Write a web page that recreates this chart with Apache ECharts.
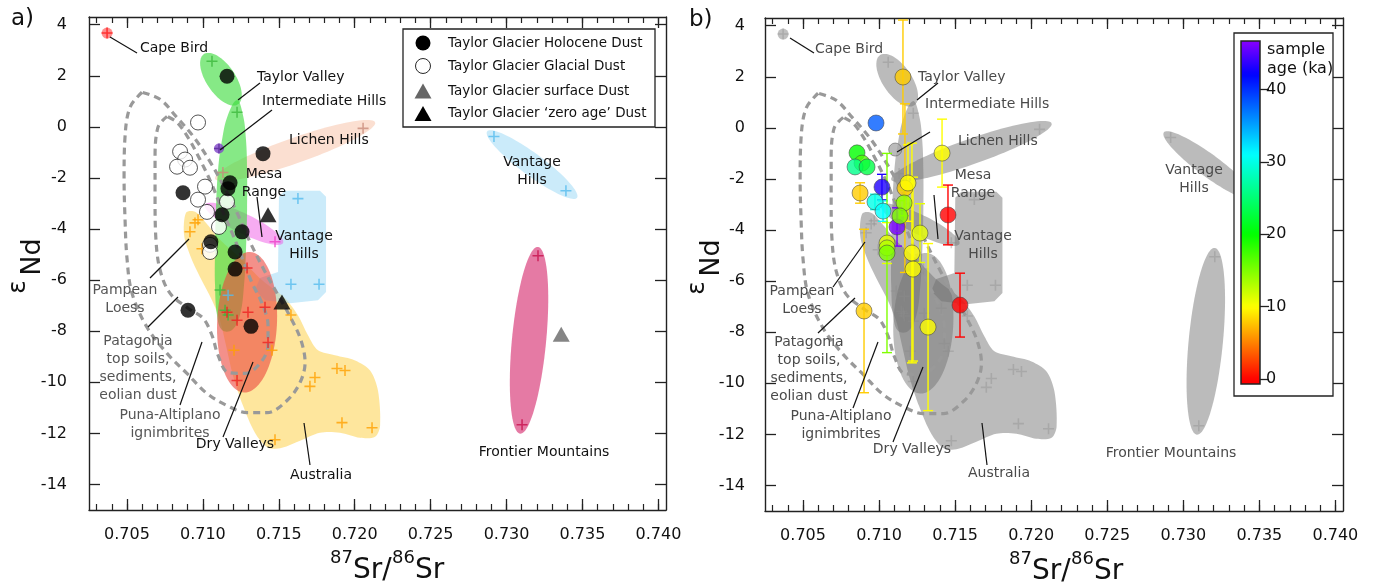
<!DOCTYPE html>
<html><head><meta charset="utf-8">
<script src="https://cdn.jsdelivr.net/npm/echarts@6/dist/echarts.min.js"></script>
<style>html,body{margin:0;padding:0;background:#fff}#c{width:1373px;height:585px}</style>
</head><body><div id="c"></div>
<script>
// ================= DATA =================
const xTicks = [0.705, 0.710, 0.715, 0.720, 0.725, 0.730, 0.735, 0.740];
const xMinorTicks = [0.703,0.704,0.705,0.706,0.707,0.708,0.709,0.710,0.711,0.712,0.713,0.714,0.715,0.716,0.717,0.718,0.719,0.720,0.721,0.722,0.723,0.724,0.725,0.726,0.727,0.728,0.729,0.730,0.731,0.732,0.733,0.734,0.735,0.736,0.737,0.738,0.739,0.740];
const yTicks = [-14, -12, -10, -8, -6, -4, -2, 0, 2, 4];
const ageTicks = [0, 10, 20, 30, 40];

// Taylor Glacier dust, panel a  [87Sr/86Sr, eNd]
const holoceneDust = [[0.71159,1.98],[0.71396,-1.05],[0.71179,-2.19],[0.71165,-2.42],[0.70869,-2.58],[0.71126,-3.44],[0.71258,-4.11],[0.71053,-4.50],[0.71212,-4.90],[0.71212,-5.57],[0.70902,-7.18],[0.71317,-7.81]];
const glacialDust = [[0.70968,0.17],[0.70850,-0.97],[0.70883,-1.28],[0.70830,-1.56],[0.70915,-1.60],[0.71014,-2.34],[0.70968,-2.85],[0.71159,-2.93],[0.71027,-3.33],[0.71106,-3.92],[0.71047,-4.62],[0.71047,-4.90]];
const surfaceDust = [[0.73360,-8.12]];
const zeroAgeDust = [[0.71429,-3.44],[0.71521,-6.86]];

// Panel b samples [87Sr/86Sr, eNd, eNd error, age (ka)]
const ageSamples = [
  [0.71157, 1.99, 2.23, 8],
  [0.70980, 0.19, 0, 38],
  [0.70855, -0.98, 0, 20],
  [0.70888, -1.38, 0, 17],
  [0.70842, -1.53, 0, 26],
  [0.70921, -1.53, 0, 23],
  [0.70875, -2.55, 0.4, 8],
  [0.71019, -2.32, 0.5, 43],
  [0.70973, -2.90, 0.3, 30],
  [0.71026, -3.26, 0.4, 31],
  [0.71118, -3.88, 0.75, 46],
  [0.71052, -4.51, 0.8, 11],
  [0.71052, -4.70, 0, 13],
  [0.71052, -4.90, 3.9, 15],
  [0.71170, -2.36, 3.3, 8],
  [0.71190, -2.16, 1.5, 10],
  [0.71164, -2.94, 0.5, 14],
  [0.71137, -3.45, 0.6, 15],
  [0.71269, -4.12, 1.15, 11],
  [0.71216, -4.90, 4.3, 10],
  [0.71223, -5.53, 3.6, 10],
  [0.71414, -0.99, 1.33, 10],
  [0.71453, -3.41, 1.17, 0],
  [0.71532, -6.94, 1.25, 0],
  [0.70901, -7.17, 3.2, 8],
  [0.71322, -7.80, 3.27, 10]
];

// Potential source area samples
const capeBird = [[0.70369, 3.67]];
const intermediateHills = [[0.71106, -0.85]];
const taylorValleyPts = [[0.71060,2.57],[0.71225,0.57],[0.71113,-6.39],[0.71146,-7.18],[0.71166,-7.37]];
const lichenHillsPts = [[0.72055,-0.06],[0.71132,-1.79]];
const vantageHillsPts = [[0.71626,-2.81],[0.71580,-6.16],[0.71765,-6.16],[0.71166,-6.59],[0.72917,-0.38],[0.73391,-2.50]];
const mesaRangePts = [[0.71475,-4.50]];
const frontierPts = [[0.73207,-5.05],[0.73102,-11.66]];
const dryValleysPts = [[0.71291,-5.53],[0.71409,-7.06],[0.71297,-7.26],[0.71225,-7.57],[0.71159,-7.26],[0.71429,-8.44],[0.71225,-9.93]];
const australiaPts = [[0.70915,-4.11],[0.70948,-3.76],[0.70968,-3.64],[0.70994,-4.77],[0.71205,-8.75],[0.71455,-8.75],[0.71580,-7.37],[0.71738,-9.81],[0.71705,-10.16],[0.71883,-9.46],[0.71936,-9.54],[0.71916,-11.58],[0.72114,-11.78],[0.71475,-12.25]];

// Source fields (outlines in data units)
const australiaOutline = [[0.70889,-3.364],[0.70948,-3.325],[0.71014,-3.718],[0.71113,-4.425],[0.71244,-5.133],[0.71389,-5.998],[0.71541,-6.706],[0.71626,-7.374],[0.71692,-8.160],[0.71758,-8.750],[0.71870,-8.946],[0.72002,-9.143],[0.72101,-9.536],[0.72153,-10.322],[0.72167,-11.698],[0.72134,-12.130],[0.72035,-12.170],[0.71903,-11.973],[0.71771,-11.973],[0.71640,-12.288],[0.71521,-12.563],[0.71429,-12.563],[0.71343,-11.973],[0.71264,-10.912],[0.71198,-9.732],[0.71152,-8.553],[0.71113,-7.571],[0.71060,-6.784],[0.70981,-5.880],[0.70915,-5.015],[0.70876,-4.229]];
const vantageOutline = [[0.71541,-2.499],[0.71771,-2.499],[0.71811,-2.735],[0.71811,-6.470],[0.71758,-6.784],[0.71574,-6.902],[0.71409,-6.784],[0.71343,-6.391],[0.71376,-5.919],[0.71495,-5.683],[0.71501,-2.735]];
const taylorLowerOutline = [[0.71225,1.051],[0.71264,0.464],[0.71284,-0.515],[0.71291,-1.690],[0.71291,-3.256],[0.71284,-4.821],[0.71271,-6.192],[0.71244,-7.366],[0.71192,-7.953],[0.71126,-7.953],[0.71093,-7.366],[0.71080,-6.192],[0.71080,-4.821],[0.71086,-3.256],[0.71100,-1.690],[0.71126,-0.515],[0.71165,0.464]];
// ellipses: [centre, end of one semi-axis, end of the other]
const taylorUpperEll = [[0.71119,1.864],[0.71231,0.881],[0.71198,2.178]];
const lichenEll = [[0.71607,-0.927],[0.72134,0.174],[0.71633,-1.399]];
const mesaEll = [[0.71271,-3.797],[0.71528,-4.544],[0.71244,-4.150]];
const dryValleysEll = [[0.71291,-7.649],[0.71310,-4.897],[0.71488,-7.688]];
const frontierEll = [[0.73148,-8.357],[0.73207,-4.701],[0.73260,-8.435]];
const vantageNEEll = [[0.73168,-1.477],[0.73464,-2.775],[0.73125,-1.831]];
// South American fields (dashed)
const outerField = [[0.70599,1.353],[0.70520,0.763],[0.70487,-0.416],[0.70481,-1.988],[0.70487,-3.561],[0.70500,-5.133],[0.70533,-6.509],[0.70632,-7.846],[0.70764,-8.868],[0.70895,-9.654],[0.71027,-10.440],[0.71159,-10.912],[0.71291,-11.187],[0.71422,-11.187],[0.71554,-10.715],[0.71640,-10.007],[0.71673,-9.221],[0.71646,-8.357],[0.71580,-7.492],[0.71495,-6.588],[0.71403,-5.605],[0.71310,-4.504],[0.71225,-3.364],[0.71139,-2.342],[0.71047,-1.360],[0.70942,-0.416],[0.70823,0.410],[0.70718,1.078],[0.70599,1.353]];
const innerField = [[0.70764,0.410],[0.70704,-0.023],[0.70685,-1.281],[0.70685,-2.854],[0.70691,-4.425],[0.70718,-5.605],[0.70783,-6.509],[0.70902,-7.099],[0.71001,-7.492],[0.71060,-8.160],[0.71100,-8.946],[0.71165,-9.614],[0.71277,-9.654],[0.71376,-9.261],[0.71429,-8.553],[0.71429,-7.767],[0.71389,-6.902],[0.71324,-6.116],[0.71264,-5.212],[0.71198,-4.229],[0.71126,-3.246],[0.71060,-2.264],[0.70981,-1.281],[0.70902,-0.416],[0.70830,0.174],[0.70764,0.410]];

const X_MIN = 0.7025, X_MAX = 0.7405, Y_MIN = -15, Y_MAX = 4.3;
const AGE_MIN = -0.7, AGE_MAX = 46.7;

// ================= STYLE / BUILD =================
const F = '"DejaVu Sans", Verdana, sans-serif';
const AX = '#222';
function ageColor(a) {
  const st = [[0,0],[10,60],[20,120],[31,180],[42,240],[47,275]];
  let h;
  if (a <= st[0][0]) h = st[0][1];
  else if (a >= st[st.length-1][0]) h = st[st.length-1][1];
  else for (let i = 0; i < st.length-1; i++) {
    if (a >= st[i][0] && a <= st[i+1][0]) { h = st[i][1] + (st[i+1][1]-st[i][1])*(a-st[i][0])/(st[i+1][0]-st[i][0]); break; }
  }
  return 'hsl(' + h.toFixed(1) + ',100%,50%)';
}

const regions = [
  {poly: australiaOutline, smooth: 0.3, fill: 'rgba(253,205,60,0.5)'},
  {poly: vantageOutline, smooth: 0, fill: 'rgba(140,210,245,0.45)'},
  {ell: vantageNEEll, fill: 'rgba(140,210,245,0.45)'},
  {ell: lichenEll, fill: 'rgba(245,175,140,0.4)'},
  {ell: mesaEll, fill: 'rgba(240,90,230,0.5)'},
  {poly: taylorLowerOutline, smooth: 0.4, fill: 'rgba(60,220,60,0.62)'},
  {ell: taylorUpperEll, fill: 'rgba(60,220,60,0.62)'},
  {ell: dryValleysEll, fill: 'rgba(235,70,60,0.6)'},
  {ell: frontierEll, fill: 'rgba(215,50,115,0.65)'}
];
function regionRenderer(gray) {
  return function (params, api) {
    const r = regions[params.dataIndex];
    let pts;
    if (r.poly) pts = r.poly.map(p => api.coord(p));
    else {
      const c = api.coord(r.ell[0]), a = api.coord(r.ell[1]), b = api.coord(r.ell[2]);
      const ux = a[0]-c[0], uy = a[1]-c[1], vx = b[0]-c[0], vy = b[1]-c[1];
      pts = [];
      for (let k = 0; k < 90; k++) {
        const t = k/90*2*Math.PI;
        pts.push([c[0]+ux*Math.cos(t)+vx*Math.sin(t), c[1]+uy*Math.cos(t)+vy*Math.sin(t)]);
      }
    }
    return {type: 'polygon', shape: {points: pts, smooth: r.poly ? r.smooth : 0},
      style: {fill: gray ? 'rgba(110,110,110,0.47)' : r.fill, stroke: 'none'}};
  };
}
function errRender(params, api) {
  const x = api.value(0), y = api.value(1), e = api.value(2), a = api.value(3);
  if (!(e > 0)) return null;
  const t = api.coord([x, y+e]), b = api.coord([x, y-e]);
  const col = ageColor(a), w = 5, st = {stroke: col, lineWidth: 1.4};
  return {type: 'group', children: [
    {type: 'line', shape: {x1: t[0], y1: t[1], x2: b[0], y2: b[1]}, style: st},
    {type: 'line', shape: {x1: t[0]-w, y1: t[1], x2: t[0]+w, y2: t[1]}, style: st},
    {type: 'line', shape: {x1: b[0]-w, y1: b[1], x2: b[0]+w, y2: b[1]}, style: st}
  ]};
}
function cbRender(params, api) {
  const p0 = api.coord([0, AGE_MIN]), p1 = api.coord([1, AGE_MAX]);
  const stops = [];
  for (let v = AGE_MIN; v <= AGE_MAX + 1e-9; v += 0.5) stops.push({offset: (v-AGE_MIN)/(AGE_MAX-AGE_MIN), color: ageColor(v)});
  return {type: 'rect', shape: {x: p0[0], y: p1[1], width: p1[0]-p0[0], height: p0[1]-p1[1]},
    style: {fill: new echarts.graphic.LinearGradient(0, 1, 0, 0, stops), stroke: '#222', lineWidth: 1.5}};
}

const CROSS = 'path://M0,0.43H1V0.57H0Z M0.43,0H0.57V1H0.43Z';
function xAxesFor(g) {
  const base = {type: 'value', gridIndex: g, min: X_MIN, max: X_MAX, splitLine: {show: false}};
  const line = {show: true, onZero: false, lineStyle: {color: AX, width: 1.4}};
  const major = {show: true, inside: true, length: 11, customValues: xTicks, lineStyle: {color: AX, width: 1.3}};
  const minor = {show: true, inside: true, length: 6, customValues: xMinorTicks, lineStyle: {color: AX, width: 1.2}};
  return [
    Object.assign({}, base, {position: 'bottom', axisLine: line, axisTick: major,
      axisLabel: {show: true, customValues: xTicks, formatter: v => v.toFixed(3), fontSize: 16, fontFamily: F, color: '#111', margin: 17}}),
    Object.assign({}, base, {position: 'bottom', axisLine: {show: false, onZero: false}, axisTick: minor, axisLabel: {show: false}}),
    Object.assign({}, base, {position: 'top', axisLine: line, axisTick: major, axisLabel: {show: false}}),
    Object.assign({}, base, {position: 'top', axisLine: {show: false, onZero: false}, axisTick: minor, axisLabel: {show: false}})
  ];
}
function yAxesFor(g, margin) {
  const base = {type: 'value', gridIndex: g, min: Y_MIN, max: Y_MAX, splitLine: {show: false},
    axisLine: {show: true, onZero: false, lineStyle: {color: AX, width: 1.4}},
    axisTick: {show: true, inside: true, length: 11, customValues: yTicks, lineStyle: {color: AX, width: 1.3}}};
  return [
    Object.assign({}, base, {position: 'left', axisLabel: {show: true, customValues: yTicks, fontSize: 16, fontFamily: F, color: '#111', margin: margin}}),
    Object.assign({}, base, {position: 'right', axisLabel: {show: false}})
  ];
}

function panelSeries(xi, yi, gray) {
  const s = [];
  s.push({type: 'custom', xAxisIndex: xi, yAxisIndex: yi, renderItem: regionRenderer(gray),
    data: regions.map(r => (r.poly ? r.poly[0] : r.ell[0])), z: 1, silent: true});
  [outerField, innerField].forEach(f => s.push({type: 'line', xAxisIndex: xi, yAxisIndex: yi, data: f, smooth: 0.35,
    symbol: 'none', lineStyle: {color: '#999', width: 3.2, type: [7, 5]}, z: 3, silent: true}));
  const crossSets = [
    [taylorValleyPts, '#3cb83c'], [lichenHillsPts, '#c98b7a'], [vantageHillsPts, '#55bbee'], [mesaRangePts, '#ee40c8'],
    [frontierPts, '#c8104c'], [dryValleysPts, '#ee2020'], [australiaPts, '#ffa000']
  ];
  s.push({type: 'scatter', xAxisIndex: xi, yAxisIndex: yi, data: capeBird, symbolSize: 11,
    itemStyle: {color: gray ? '#b0b0b0' : 'rgba(255,95,95,0.9)'}, z: 4});
  s.push({type: 'scatter', xAxisIndex: xi, yAxisIndex: yi, data: intermediateHills, symbolSize: gray ? 13 : 10,
    itemStyle: {color: gray ? '#aaaaaa' : '#8044c8', borderColor: gray ? '#666' : 'none', borderWidth: gray ? 0.8 : 0}, z: 4});
  crossSets.forEach(cs => s.push({type: 'scatter', xAxisIndex: xi, yAxisIndex: yi, data: cs[0], symbol: CROSS, symbolSize: 11,
    itemStyle: {color: gray ? 'rgba(140,140,140,0.5)' : cs[1]}, z: 5}));
  s.push({type: 'scatter', xAxisIndex: xi, yAxisIndex: yi, data: capeBird, symbol: CROSS, symbolSize: 11,
    itemStyle: {color: gray ? 'rgba(140,140,140,0.5)' : '#ff1a1a'}, z: 5});
  if (!gray) s.push({type: 'scatter', xAxisIndex: xi, yAxisIndex: yi, data: intermediateHills, symbol: CROSS, symbolSize: 10,
    itemStyle: {color: '#5a2a9a'}, z: 5});
  return s;
}

const series = [];
// panel a
series.push(...panelSeries(0, 0, false));
series.push({type: 'scatter', xAxisIndex: 0, yAxisIndex: 0, data: glacialDust, symbolSize: 15,
  itemStyle: {color: '#fff', borderColor: '#111', borderWidth: 0.9}, z: 6});
series.push({type: 'scatter', xAxisIndex: 0, yAxisIndex: 0, data: holoceneDust, symbolSize: 15, itemStyle: {color: '#000'}, z: 7});
series.push({type: 'scatter', xAxisIndex: 0, yAxisIndex: 0, data: surfaceDust, symbol: 'triangle', symbolSize: [17, 15], itemStyle: {color: '#666'}, z: 7});
series.push({type: 'scatter', xAxisIndex: 0, yAxisIndex: 0, data: zeroAgeDust, symbol: 'triangle', symbolSize: [17, 15], itemStyle: {color: '#000'}, z: 7});
// panel b
series.push(...panelSeries(4, 2, true));
series.push({type: 'custom', xAxisIndex: 4, yAxisIndex: 2, renderItem: errRender, data: ageSamples, z: 6, clip: true});
series.push({type: 'scatter', xAxisIndex: 4, yAxisIndex: 2, data: ageSamples, symbolSize: 16, encode: {x: 0, y: 1},
  itemStyle: {color: p => ageColor(p.value[3]), borderColor: '#444', borderWidth: 0.7}, z: 7});
// colour bar
series.push({type: 'custom', xAxisIndex: 8, yAxisIndex: 4, renderItem: cbRender, data: [[0.5, 20]], z: 60, silent: true});

// ================= ANNOTATIONS =================
const K = '#111', G = '#555', G2 = '#4a4a4a';
const textsA = [
  ['Cape Bird', 140, 48, 'left', K], ['Taylor Valley', 257, 77, 'left', K], ['Intermediate Hills', 262, 101, 'left', K],
  ['Lichen Hills', 289, 140, 'left', K], ['Mesa\nRange', 264, 183.5, 'center', K], ['Vantage\nHills', 304, 245, 'center', K],
  ['Vantage\nHills', 532, 171, 'center', K], ['Frontier Mountains', 544, 452, 'center', K], ['Australia', 321, 475, 'center', K],
  ['Dry Valleys', 235, 444, 'center', K], ['Pampean\nLoess', 125, 299, 'center', G],
  ['Patagonia\ntop soils,\nsediments,\neolian dust', 138, 368.5, 'center', G], ['Puna-Altiplano\nignimbrites', 170, 424, 'center', G]
];
const linesA = [[110,37,137,53],[238,100,260,83],[220,150,272,110],[257,197,262,237],[150,278,189,239],[148,327,178,297],[180,405,202,342],[223,437,253,362],[310,465,304,423]];
const textsB = [
  ['Cape Bird', 815, 49, 'left', G2], ['Taylor Valley', 918, 77, 'left', G2], ['Intermediate Hills', 925, 104, 'left', G2],
  ['Lichen Hills', 958, 141, 'left', G2], ['Mesa\nRange', 973, 184, 'center', G2], ['Vantage\nHills', 983, 245.5, 'center', G2],
  ['Vantage\nHills', 1194, 179, 'center', G2], ['Frontier Mountains', 1171, 453, 'center', G2], ['Australia', 999, 473, 'center', G2],
  ['Dry Valleys', 912, 449, 'center', G2], ['Pampean\nLoess', 802, 300, 'center', G2],
  ['Patagonia\ntop soils,\nsediments,\neolian dust', 809, 369, 'center', G2], ['Puna-Altiplano\nignimbrites', 841, 425.5, 'center', G2]
];
const linesB = [[790,38,814,53],[917,100,938,83],[897,152,930,132],[934,195,938,239],[833,287,865,242],[818,333,855,298],[853,408,878,342],[893,442,923,367],[987,465,982,423]];

const graphics = [];
function txt(t, x, y, size, col, align, extra) {
  graphics.push(Object.assign({type: 'text', x: x, y: y, z: 40, silent: true,
    style: {text: t, fontSize: size, fontFamily: F, fill: col, align: align || 'left', verticalAlign: 'middle', lineHeight: 18}}, extra || {}));
}
textsA.concat(textsB).forEach(a => txt(a[0], a[1], a[2], 14, a[4], a[3]));
linesA.concat(linesB).forEach(l => graphics.push({type: 'line', z: 40, silent: true, shape: {x1: l[0], y1: l[1], x2: l[2], y2: l[3]}, style: {stroke: '#111', lineWidth: 1.2}}));
txt('a)', 11, 19, 23, '#111', 'left');
txt('b)', 689, 20, 23, '#111', 'left');
[[0, 0], [679, 1]].forEach(o => {
  const dx = o[0], dy = o[1];
  txt('ε', 18 + dx, 287 + dy, 25, '#111', 'center', {rotation: Math.PI / 2});
  txt('Nd', 33 + dx, 257 + dy, 27, '#111', 'center', {rotation: Math.PI / 2});
  txt('87', 330 + dx, 558 + dy, 18, '#111', 'left');
  txt('Sr/', 353 + dx, 571 + dy, 28, '#111', 'left');
  txt('86', 392 + dx, 558 + dy, 18, '#111', 'left');
  txt('Sr', 415 + dx, 571 + dy, 28, '#111', 'left');
});
// legend (panel a)
graphics.push({type: 'rect', z: 50, silent: true, shape: {x: 403, y: 29, width: 252, height: 98}, style: {fill: '#fff', stroke: '#222', lineWidth: 1.3}});
graphics.push({type: 'circle', z: 51, shape: {cx: 423, cy: 43, r: 7.5}, style: {fill: '#000'}});
graphics.push({type: 'circle', z: 51, shape: {cx: 423, cy: 66, r: 7.5}, style: {fill: '#fff', stroke: '#111', lineWidth: 0.9}});
graphics.push({type: 'polygon', z: 51, shape: {points: [[414.5, 98.5], [431.5, 98.5], [423, 83.5]]}, style: {fill: '#666'}});
graphics.push({type: 'polygon', z: 51, shape: {points: [[414.5, 121], [431.5, 121], [423, 106]]}, style: {fill: '#000'}});
['Taylor Glacier Holocene Dust', 'Taylor Glacier Glacial Dust', 'Taylor Glacier surface Dust', 'Taylor Glacier \u2018zero age\u2019 Dust']
  .forEach((t, i) => graphics.push({type: 'text', z: 52, x: 448, y: [43, 66, 91, 113][i], silent: true,
    style: {text: t, fontSize: 13.5, fontFamily: F, fill: '#111', align: 'left', verticalAlign: 'middle'}}));
// colour bar box (panel b)
graphics.push({type: 'rect', z: 50, silent: true, shape: {x: 1234, y: 33, width: 99, height: 363}, style: {fill: '#fff', stroke: '#222', lineWidth: 1.3}});
graphics.push({type: 'text', z: 52, x: 1267, y: 59, silent: true,
  style: {text: 'sample\nage (ka)', fontSize: 16, fontFamily: F, fill: '#111', align: 'left', verticalAlign: 'middle', lineHeight: 19}});

// ================= CHART =================
const chart = echarts.init(document.getElementById('c'), null, {renderer: 'canvas'});
const xAxis = [].concat(xAxesFor(0), xAxesFor(1), [{type: 'value', gridIndex: 2, min: 0, max: 1, show: false}]);
const yAxis = [].concat(yAxesFor(0, 22), yAxesFor(1, 20), [{type: 'value', gridIndex: 2, min: AGE_MIN, max: AGE_MAX, position: 'right', z: 60,
  splitLine: {show: false}, axisLine: {show: false, onZero: false},
  axisTick: {show: true, inside: false, length: 9, customValues: ageTicks, lineStyle: {color: AX, width: 1.3}},
  axisLabel: {show: true, customValues: ageTicks, fontSize: 16, fontFamily: F, color: '#111', margin: 6}}]);
chart.setOption({
  animation: false,
  backgroundColor: '#fff',
  grid: [
    {left: 89, top: 17, width: 577, height: 493},
    {left: 765, top: 18, width: 578, height: 493},
    {left: 1241, top: 41, width: 19, height: 343, z: 60}
  ],
  xAxis: xAxis,
  yAxis: yAxis,
  series: series,
  graphic: {elements: graphics}
});
</script></body></html>
